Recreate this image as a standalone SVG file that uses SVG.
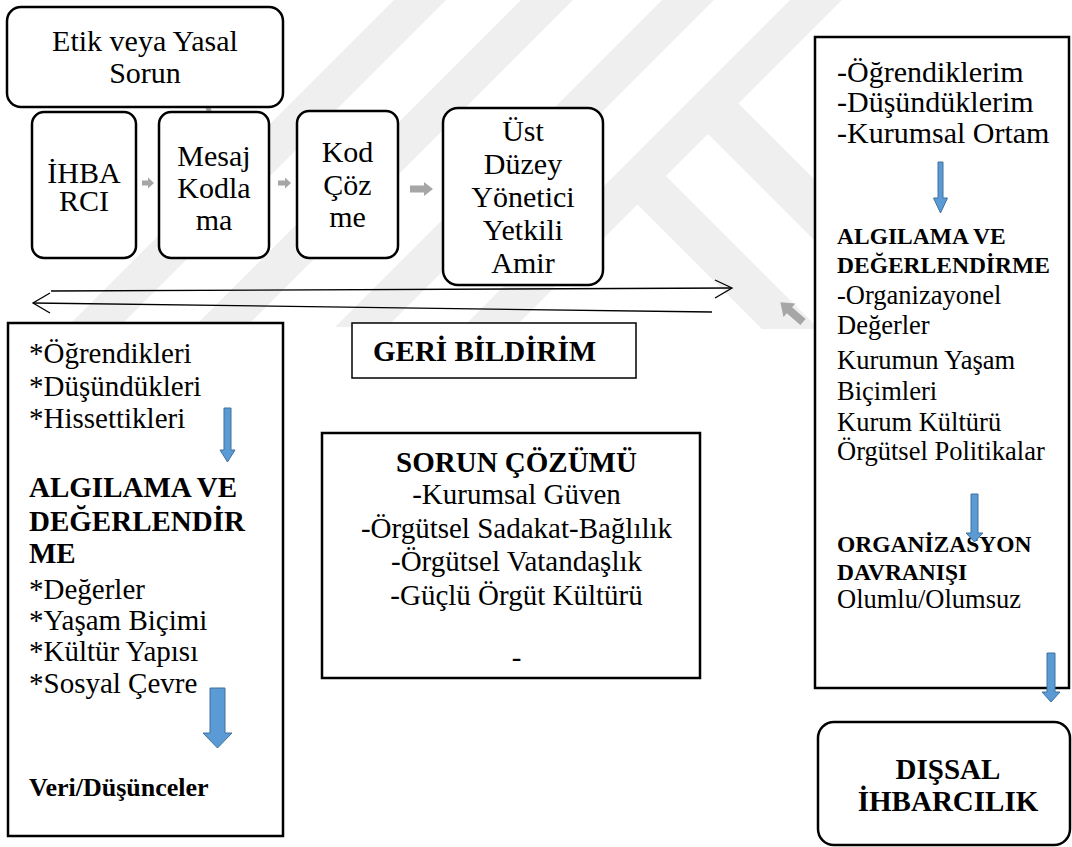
<svg xmlns="http://www.w3.org/2000/svg" width="1072" height="847" viewBox="0 0 1072 847">
<style>
text{font-family:"Liberation Serif",serif;fill:#000}
.r{font-family:"Liberation Serif",Tinos,"Liberation Mono",serif;animation:ff .1s linear forwards}
@keyframes ff{from{font-family:"Liberation Serif",Tinos,"Liberation Mono",serif}to{font-family:Times,"Liberation Serif","Liberation Mono",serif}}
.b{font-family:"Liberation Serif",serif;font-weight:bold}
.c{text-anchor:middle}
.f30{font-size:30px}
.f29{font-size:29px}
.f265{font-size:26.5px}
.f235{font-size:23.5px}
.f26{font-size:26px}
.box{fill:#fff;stroke:#000;stroke-width:2.5}
.thin{fill:#fff;stroke:#000;stroke-width:1.5}
.wm{fill:#efefef}
.ga{fill:#a6a6a6}
.ba{fill:#5b9bd5;stroke:#41719c;stroke-width:1}
.ln{fill:none;stroke:#000;stroke-width:1.3}
</style>
<rect width="1072" height="847" fill="#fff"/>
<g id="watermark">
<polygon class="wm" points="394,0 446,0 119,327 67,327"/>
<polygon class="wm" points="521,0 573,0 246,327 194,327"/>
<polygon class="wm" points="662,0 714,0 387,327 335,327"/>
<polygon class="wm" points="790,0 842,0 515,327 463,327"/>
<polygon class="wm" points="660,170 819,329 762,329 620,187"/>
<polygon class="wm" points="730,95 815,180 815,241 700,126"/>
</g>
<g id="connectors">
<path class="ln" d="M51,291 L731,288"/>
<polyline class="ln" points="715,280 732,288 715,298"/>
<path class="ln" d="M33,303 L712,312"/>
<polyline class="ln" points="50,293 33,303 50,313"/>
<polygon class="ga" points="142,180.5 148,180.5 148,177.5 154,183 148,188.5 148,185.5 142,185.5"/>
<polygon class="ga" points="278,180.5 285,180.5 285,177.5 291,183 285,188.5 285,185.5 278,185.5"/>
<polygon class="ga" points="410,185.5 424,185.5 424,182 433,189 424,196 424,192.5 410,192.5"/>
<polygon class="ga" points="0,-2.5 14,-2.5 14,-6 23,0 14,6 14,2.5 0,2.5" transform="translate(208,107) rotate(77)"/>
<polygon class="ga" points="0,-4 18,-4 18,-9 30,0 18,9 18,4 0,4" transform="translate(803,322) rotate(221)"/>
</g>
<g id="n-etik">
<rect class="box" x="7" y="7" width="276" height="100" rx="14"/>
<text class="r f30 c" x="145" y="51">Etik veya Yasal</text>
<text class="r f30 c" x="145" y="83">Sorun</text>
</g>
<g id="n-ihbarci">
<rect class="box" x="32" y="112" width="104" height="146" rx="12"/>
<text class="r f30 c" x="84" y="183">İHBA</text>
<text class="r f30 c" x="84" y="211">RCI</text>
</g>
<g id="n-mesaj">
<rect class="box" x="159" y="112" width="110" height="146" rx="12"/>
<text class="r f30 c" x="214" y="166">Mesaj</text>
<text class="r f30 c" x="214" y="198">Kodla</text>
<text class="r f30 c" x="214" y="230">ma</text>
</g>
<g id="n-kod">
<rect class="box" x="297" y="111" width="101" height="147" rx="12"/>
<text class="r f30 c" x="347.5" y="162">Kod</text>
<text class="r f30 c" x="347.5" y="195">Çöz</text>
<text class="r f30 c" x="347.5" y="227">me</text>
</g>
<g id="n-ust">
<rect class="box" x="443" y="108" width="160" height="177" rx="15"/>
<text class="r f30 c" x="523" y="141">Üst</text>
<text class="r f30 c" x="523" y="174">Düzey</text>
<text class="r f30 c" x="523" y="207">Yönetici</text>
<text class="r f30 c" x="523" y="240">Yetkili</text>
<text class="r f30 c" x="523" y="273">Amir</text>
</g>
<g id="n-left">
<rect class="box" x="8" y="323" width="275" height="513"/>
<text class="r f29" x="29" y="363">*Öğrendikleri</text>
<text class="r f29" x="29" y="396">*Düşündükleri</text>
<text class="r f29" x="29" y="428">*Hissettikleri</text>
<path class="ba" d="M224,408 H231 V450 H235 L227.5,462 L220,450 H224 Z"/>
<text class="f29 b" x="29" y="497">ALGILAMA VE</text>
<text class="f29 b" x="29" y="531">DEĞERLENDİR</text>
<text class="f29 b" x="29" y="563">ME</text>
<text class="r f29" x="29" y="599">*Değerler</text>
<text class="r f29" x="29" y="630">*Yaşam Biçimi</text>
<text class="r f29" x="29" y="661">*Kültür Yapısı</text>
<text class="r f29" x="29" y="693">*Sosyal Çevre</text>
<path class="ba" d="M210,688 H225 V733 H232 L217.5,748 L203,733 H210 Z"/>
<text class="f26 b" x="29" y="796">Veri/Düşünceler</text>
</g>
<g id="n-geri">
<rect class="thin" x="352" y="323" width="284" height="55"/>
<text class="f29 b" x="373" y="361">GERİ BİLDİRİM</text>
</g>
<g id="n-sorun">
<rect class="box" x="322" y="433" width="378" height="245"/>
<text class="f29 b c" x="516.5" y="472">SORUN ÇÖZÜMÜ</text>
<text class="r f29 c" x="516.5" y="504">-Kurumsal Güven</text>
<text class="r f29 c" x="516.5" y="538">-Örgütsel Sadakat-Bağlılık</text>
<text class="r f29 c" x="516.5" y="571">-Örgütsel Vatandaşlık</text>
<text class="r f29 c" x="516.5" y="605">-Güçlü Örgüt Kültürü</text>
<text class="r f29 c" x="516.5" y="667">-</text>
</g>
<g id="n-right">
<rect class="box" x="815" y="37" width="254" height="651"/>
<text class="r f30" x="837" y="82">-Öğrendiklerim</text>
<text class="r f30" x="837" y="112">-Düşündüklerim</text>
<text class="r f30" x="837" y="143">-Kurumsal Ortam</text>
<path class="ba" d="M938,162 H943 V198 H947.5 L940.5,213 L933.5,198 H938 Z"/>
<text class="f235 b" x="837" y="244">ALGILAMA VE</text>
<text class="f235 b" x="837" y="273">DEĞERLENDİRME</text>
<text class="r f265" x="837" y="304">-Organizayonel</text>
<text class="r f265" x="837" y="334">Değerler</text>
<text class="r f265" x="837" y="369">Kurumun Yaşam</text>
<text class="r f265" x="837" y="400">Biçimleri</text>
<text class="r f265" x="837" y="431">Kurum Kültürü</text>
<text class="r f265" x="837" y="460">Örgütsel Politikalar</text>
<text class="f235 b" x="837" y="552">ORGANİZASYON</text>
<text class="f235 b" x="837" y="580">DAVRANIŞI</text>
<text class="r f265" x="837" y="608">Olumlu/Olumsuz</text>
<path class="ba" d="M971,494 H978 V533 H983 L974.5,542 L966,533 H971 Z"/>
</g>
<g id="arrow-out">
<path class="ba" d="M1047,653 H1055 V692 H1060 L1051,702 L1042,692 H1047 Z"/>
</g>
<g id="n-dissal">
<rect class="box" x="818" y="722" width="252" height="123" rx="16"/>
<text class="f29 b c" x="948" y="779">DIŞSAL</text>
<text class="f29 b c" x="948" y="811">İHBARCILIK</text>
</g>
</svg>
